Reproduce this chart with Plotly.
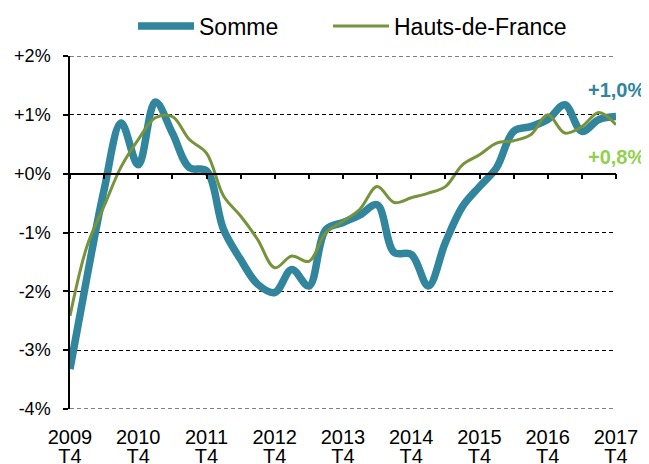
import plotly.graph_objects as go

quarters = [
    "2009 T4",
    "2010 T1", "2010 T2", "2010 T3", "2010 T4",
    "2011 T1", "2011 T2", "2011 T3", "2011 T4",
    "2012 T1", "2012 T2", "2012 T3", "2012 T4",
    "2013 T1", "2013 T2", "2013 T3", "2013 T4",
    "2014 T1", "2014 T2", "2014 T3", "2014 T4",
    "2015 T1", "2015 T2", "2015 T3", "2015 T4",
    "2016 T1", "2016 T2", "2016 T3", "2016 T4",
    "2017 T1", "2017 T2", "2017 T3", "2017 T4",
]

somme = [
    -3.32, -1.75, -0.27, 0.86, 0.15, 1.22, 0.69, 0.10, 0.05,
    -0.95, -1.46, -1.88, -2.02, -1.63, -1.91, -0.95, -0.83,
    -0.70, -0.53, -1.34, -1.37, -1.91, -1.17, -0.56, -0.22,
    0.10, 0.72, 0.80, 0.92, 1.17, 0.72, 0.92, 0.97,
]

hdf = [
    -2.42, -1.23, -0.55, 0.12, 0.58, 0.95, 0.97, 0.58, 0.35,
    -0.38, -0.72, -1.12, -1.60, -1.40, -1.49, -1.00, -0.81,
    -0.60, -0.22, -0.49, -0.41, -0.33, -0.22, 0.15, 0.32,
    0.52, 0.56, 0.66, 1.00, 0.69, 0.80, 1.04, 0.83,
]

year_ticks = ["2009 T4", "2010 T4", "2011 T4", "2012 T4", "2013 T4",
              "2014 T4", "2015 T4", "2016 T4", "2017 T4"]
year_labels = ["2009", "2010", "2011", "2012", "2013", "2014", "2015", "2016", "2017"]
quarter_labels = ["T4"] * len(year_ticks)
half_ticks = [q for q in quarters if q.endswith("T4") or q.endswith("T2")]

y_vals = [-4, -3, -2, -1, 0, 1, 2]
y_labels = ["-4%", "-3%", "-2%", "-1%", "+0%", "+1%", "+2%"]
y_min, y_max = -4, 2

end_labels = ["+1,0%", "+0,8%"]
end_label_y = [1.42, 0.29]

BLUE = "#31859C"
GREEN = "#77933C"
LGREEN = "#92D050"
FONT = "Arial, Liberation Sans, sans-serif"
DASH = "4px,3px"

# the page body has an 8px default margin: the figure is sized to fit the window
W, H = 641, 456

fig = go.Figure()
fig.add_trace(go.Scatter(x=quarters, y=somme, name="Somme", mode="lines",
                         line=dict(color=BLUE, width=7.5, shape="spline", smoothing=1.0),
                         legend="legend"))
fig.add_trace(go.Scatter(x=quarters, y=hdf, name="Hauts-de-France", mode="lines",
                         line=dict(color=GREEN, width=3, shape="spline", smoothing=1.0),
                         legend="legend2"))

fig.add_annotation(x=quarters[-1], y=end_label_y[0], xref="x", yref="y",
                   text="<b>" + end_labels[0] + "</b>",
                   showarrow=False, font=dict(family=FONT, size=20, color=BLUE), xanchor="center")
fig.add_annotation(x=quarters[-1], y=end_label_y[1], xref="x", yref="y",
                   text="<b>" + end_labels[1] + "</b>",
                   showarrow=False, font=dict(family=FONT, size=20, color=LGREEN), xanchor="center")

# edge gridlines (hidden by plotly at range ends)
for yv in (y_min, y_max):
    fig.add_shape(type="line", xref="x domain", yref="y", x0=0, x1=1, y0=yv, y1=yv,
                  line=dict(color="black", width=1, dash=DASH), layer="below")

legend_common = dict(orientation="h", xref="container", yref="container",
                     yanchor="middle", y=1 - 18 / H, xanchor="left",
                     font=dict(family=FONT, size=23, color="black"),
                     itemwidth=56, bgcolor="rgba(0,0,0,0)", borderwidth=0)

cat_axis = dict(type="category", categoryorder="array", categoryarray=quarters,
                range=[0, len(quarters) - 1], automargin=False,
                showgrid=False, zeroline=False)

fig.update_layout(
    width=W, height=H,
    margin=dict(l=62, r=33, t=48, b=55, autoexpand=False),
    paper_bgcolor="white", plot_bgcolor="white",
    font=dict(family=FONT, size=18, color="black"),
    showlegend=True,
    legend=dict(legend_common, x=125 / W),
    legend2=dict(legend_common, x=320 / W),
    xaxis=dict(cat_axis, tickmode="array", tickvals=year_ticks, ticktext=year_labels,
               showline=False, ticks="", ticklabelstandoff=14,
               tickfont=dict(family=FONT, size=20, color="black")),
    xaxis3=dict(cat_axis, overlaying="x", anchor="y", side="bottom",
                tickmode="array", tickvals=year_ticks, ticktext=quarter_labels,
                showline=False, ticks="", ticklabelstandoff=33,
                tickfont=dict(family=FONT, size=20, color="black")),
    xaxis2=dict(cat_axis, overlaying="x", anchor="free",
                position=(0 - y_min) / (y_max - y_min), side="bottom",
                tickmode="array", tickvals=half_ticks, showticklabels=False,
                ticks="outside", ticklen=5, tickcolor="black", tickwidth=1.5,
                showline=True, linecolor="black", linewidth=1.5),
    yaxis=dict(range=[y_min, y_max], tickmode="array", tickvals=y_vals, ticktext=y_labels,
               automargin=False,
               showgrid=True, gridcolor="black", gridwidth=1, griddash=DASH,
               zeroline=False, showline=True, linecolor="black", linewidth=1.5,
               ticks="outside", ticklen=5, tickcolor="black", tickwidth=1.5,
               ticklabelstandoff=9,
               tickfont=dict(family=FONT, size=18, color="black")),
)

# invisible traces to activate the overlay axes
fig.add_trace(go.Scatter(x=[quarters[0]], y=[0], xaxis="x2", mode="markers",
                         marker=dict(opacity=0), showlegend=False, hoverinfo="skip"))
fig.add_trace(go.Scatter(x=[quarters[0]], y=[0], xaxis="x3", mode="markers",
                         marker=dict(opacity=0), showlegend=False, hoverinfo="skip"))

fig.write_html("out.html")
